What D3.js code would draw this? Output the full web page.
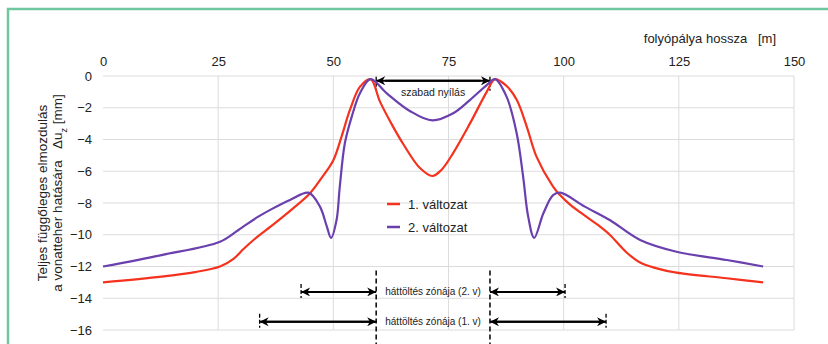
<!DOCTYPE html>
<html>
<head>
<meta charset="utf-8">
<script src="https://cdn.jsdelivr.net/npm/d3@7"></script>
<style>
    body { margin: 0; background: #fff; }
    svg { display: block; font-family: "Liberation Sans", Arial, sans-serif; }
</style>
</head>
<body>
<div id="chart"></div>
<script>
const xTicks = [0, 25, 50, 75, 100, 125, 150];
const yTicks = [0, -2, -4, -6, -8, -10, -12, -14, -16];

// 1. változat (piros)
const variant1 = [
    [0, -13.0], [12.7, -12.64], [20, -12.35], [25.4, -12.0], [28.4, -11.5], [30.5, -10.9],
    [32.8, -10.3], [37.2, -9.3], [41, -8.4], [44.9, -7.4], [47.5, -6.4], [50, -5.3],
    [51.8, -3.8], [53.6, -2.14], [55.8, -0.67], [58.1, -0.2], [60.1, -1.6], [62.6, -3.0],
    [65.2, -4.3], [68.8, -5.8], [71.5, -6.3], [73.5, -5.9], [76, -4.86], [79.7, -2.97],
    [83.3, -1.0], [85.1, -0.2], [87.5, -0.6], [89.8, -1.5], [92, -3.2], [94.1, -5.08],
    [97.7, -6.97], [99.2, -7.5], [101.4, -8.1], [104.6, -8.8], [107.5, -9.4], [110, -10.0],
    [113.6, -11.1], [116.6, -11.75], [120, -12.1], [124.5, -12.39], [135.4, -12.74], [143.3, -13.0],
];

// 2. változat (lila)
const variant2 = [
    [0, -12.0], [12.7, -11.28], [25.4, -10.44], [29.4, -9.7], [33.7, -8.86], [36.5, -8.4],
    [40.6, -7.81], [44.6, -7.35], [47.1, -8.23], [48.6, -9.49], [49.5, -10.2], [50.7, -9.07],
    [51.4, -6.97], [52.5, -4.24], [54, -2.56], [55.8, -1.07], [58.1, -0.2], [61.6, -1.09],
    [66.6, -2.2], [71.5, -2.8], [76, -2.35], [79.7, -1.5], [83.3, -0.57],
    [85.1, -0.2], [87.6, -1.3], [89.8, -3.6], [91.2, -6.34], [92.3, -8.86], [93.6, -10.2],
    [95.6, -8.65], [97.7, -7.5], [99.3, -7.35], [104.6, -8.23], [110, -9.07], [116.6, -10.33],
    [124.5, -11.07], [135.4, -11.59], [143.3, -12.0],
];

const openingStart = 59.3;
const openingEnd = 84;
const zones = [
    {label: "háttöltés zónája (2. v)", left: 43, right: 100.3, level: -13.6},
    {label: "háttöltés zónája (1. v)", left: 34, right: 109.2, level: -15.48},
];

const width = 828;
const height = 344;
const svg = d3.select("#chart").append("svg")
    .attr("width", width)
    .attr("height", height);

svg.append("path")
    .attr("d", `M8,${height} V9 H${width}`)
    .attr("fill", "none")
    .attr("stroke", "#6fc7a0")
    .attr("stroke-width", 2.5);

const x = d3.scaleLinear().domain([0, 150]).range([103, 794]);
const y = d3.scaleLinear().domain([0, -16]).range([76, 330]);

const defs = svg.append("defs");
defs.append("marker")
    .attr("id", "head")
    .attr("viewBox", "0 0 10 10")
    .attr("refX", 10)
    .attr("refY", 5)
    .attr("markerWidth", 5)
    .attr("markerHeight", 4.5)
    .attr("markerUnits", "strokeWidth")
    .attr("orient", "auto-start-reverse")
    .append("path")
    .attr("d", "M0,0 L10,5 L0,10 L3,5 Z")
    .attr("fill", "#000");

// rács
svg.append("g")
    .selectAll("line")
    .data(yTicks)
    .join("line")
    .attr("x1", x(0))
    .attr("x2", x(150))
    .attr("y1", (d) => y(d))
    .attr("y2", (d) => y(d))
    .attr("stroke", "#dcdcdc")
    .attr("stroke-width", 1);

svg.append("g")
    .selectAll("line")
    .data(xTicks.slice(1))
    .join("line")
    .attr("x1", (d) => x(d))
    .attr("x2", (d) => x(d))
    .attr("y1", y(0))
    .attr("y2", y(-16))
    .attr("stroke", "#dcdcdc")
    .attr("stroke-width", 1);

svg.append("g")
    .attr("transform", `translate(0, ${y(0) - 10})`)
    .call(d3.axisTop(x).tickValues(xTicks).tickSize(0).tickPadding(0))
    .call((g) => g.select(".domain").remove())
    .call((g) => g.selectAll("text")
        .attr("font-size", 13)
        .attr("fill", "#222")
        .attr("font-family", "Liberation Sans, Arial, sans-serif"));

svg.append("g")
    .attr("transform", `translate(${x(0) - 11}, 0)`)
    .call(d3.axisLeft(y).tickValues(yTicks).tickSize(0).tickPadding(0))
    .call((g) => g.select(".domain").remove())
    .call((g) => g.selectAll("text")
        .attr("font-size", 13)
        .attr("fill", "#222")
        .attr("font-family", "Liberation Sans, Arial, sans-serif"));

svg.append("text")
    .attr("x", 776)
    .attr("y", 43)
    .attr("text-anchor", "end")
    .attr("font-size", 13)
    .attr("fill", "#222")
    .attr("xml:space", "preserve")
    .text("folyópálya hossza   [m]");

const yTitle = svg.append("g")
    .attr("transform", "translate(0, 193) rotate(-90)")
    .attr("font-size", 13.5)
    .attr("fill", "#222")
    .attr("text-anchor", "middle");
yTitle.append("text")
    .attr("x", 0)
    .attr("y", 47)
    .text("Teljes függőleges elmozdulás");
const line2 = yTitle.append("text")
    .attr("x", 0)
    .attr("y", 62)
    .attr("xml:space", "preserve");
line2.append("tspan").text("a vonatteher hatására   Δu");
line2.append("tspan").attr("baseline-shift", "sub").attr("font-size", 9).text("z");
line2.append("tspan").text(" [mm]");

// függőleges szaggatott vonalak
[openingStart, openingEnd].forEach((v) => {
    svg.append("line")
        .attr("x1", x(v))
        .attr("x2", x(v))
        .attr("y1", y(-12.25))
        .attr("y2", height)
        .attr("stroke", "#000")
        .attr("stroke-width", 1.5)
        .attr("stroke-dasharray", "5 3");
});

function drawArrow(from, to, level) {
    svg.append("line")
        .attr("x1", x(from))
        .attr("x2", x(to))
        .attr("y1", y(level))
        .attr("y2", y(level))
        .attr("stroke", "#000")
        .attr("stroke-width", 2)
        .attr("marker-end", "url(#head)");
}

function drawEndTick(v, level) {
    svg.append("line")
        .attr("x1", x(v))
        .attr("x2", x(v))
        .attr("y1", y(level) - 8)
        .attr("y2", y(level) + 6)
        .attr("stroke", "#000")
        .attr("stroke-width", 1.3)
        .attr("stroke-dasharray", "4 2");
}

zones.forEach((zone) => {
    drawEndTick(zone.left, zone.level);
    drawEndTick(zone.right, zone.level);
    drawArrow(openingStart - 0.3, zone.left, zone.level);
    drawArrow(zone.left + 0.3, openingStart, zone.level);
    drawArrow(openingEnd + 0.3, zone.right, zone.level);
    drawArrow(zone.right - 0.3, openingEnd, zone.level);
    svg.append("text")
        .attr("x", x((openingStart + openingEnd) / 2))
        .attr("y", y(zone.level) + 3.5)
        .attr("text-anchor", "middle")
        .attr("font-size", 10)
        .attr("fill", "#222")
        .text(zone.label);
});

drawEndTick(openingStart, -0.55);
drawEndTick(openingEnd, -0.55);
drawArrow(openingEnd - 2, openingStart, -0.3);
drawArrow(openingStart + 2, openingEnd, -0.3);
svg.append("text")
    .attr("x", x((openingStart + openingEnd) / 2))
    .attr("y", y(-0.3) + 15)
    .attr("text-anchor", "middle")
    .attr("font-size", 10.5)
    .attr("fill", "#222")
    .text("szabad nyílás");

const line = d3.line()
    .x((d) => x(d[0]))
    .y((d) => y(d[1]))
    .curve(d3.curveCatmullRom.alpha(0.5));

const series = [
    {name: "1. változat", data: variant1, color: "#f4321e"},
    {name: "2. változat", data: variant2, color: "#6a3fae"},
];

series.forEach((s) => {
    svg.append("path")
        .datum(s.data)
        .attr("fill", "none")
        .attr("stroke", s.color)
        .attr("stroke-width", 2.2)
        .attr("d", line);
});

const legend = svg.append("g").attr("transform", "translate(387, 204)");
series.forEach((s, i) => {
    const item = legend.append("g").attr("transform", `translate(0, ${i * 23})`);
    item.append("line")
        .attr("x1", 0)
        .attr("x2", 13)
        .attr("stroke", s.color)
        .attr("stroke-width", 2.5);
    item.append("text")
        .attr("x", 21)
        .attr("y", 4.5)
        .attr("font-size", 13)
        .attr("fill", "#222")
        .text(s.name);
});
</script>
</body>
</html>
